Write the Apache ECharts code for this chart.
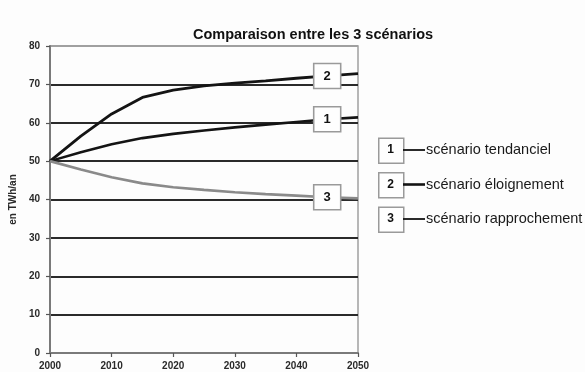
<!DOCTYPE html>
<html>
<head>
<meta charset="utf-8">
<script src="https://cdn.jsdelivr.net/npm/echarts@6/dist/echarts.min.js"></script>
<style>
  html, body { margin: 0; padding: 0; background: #fdfdfd; }
  #chart { width: 585px; height: 372px; }
</style>
</head>
<body>
<div id="chart"></div>
<script>
// Years and consumption (TWh/an) for each scenario
const years = [2000, 2005, 2010, 2015, 2020, 2025, 2030, 2035, 2040, 2045, 2050];
const tendanciel    = [50, 52.3, 54.4, 56.0, 57.1, 58.0, 58.8, 59.5, 60.2, 60.9, 61.4];
const eloignement   = [50, 56.5, 62.3, 66.6, 68.5, 69.6, 70.3, 70.9, 71.6, 72.2, 72.8];
const rapprochement = [50, 47.8, 45.8, 44.2, 43.2, 42.5, 41.9, 41.4, 41.0, 40.6, 40.3];
const seriesNames = ['scénario tendanciel', 'scénario éloignement', 'scénario rapprochement'];
const seriesTags = ['1', '2', '3'];
const yTicks = [0, 10, 20, 30, 40, 50, 60, 70, 80];
const xTicks = [2000, 2010, 2020, 2030, 2040, 2050];
const tagYear = 2045;

const FONT = '"Liberation Sans", Arial, sans-serif';
const allValues = [tendanciel, eloignement, rapprochement];
const lineColors = ['#141414', '#141414', '#8a8a8a'];
const lineWidths = [2.6, 2.8, 2.6];

function pairs(vals) { return years.map((y, i) => [y, vals[i]]); }

const series = allValues.map((vals, k) => ({
  name: seriesNames[k],
  type: 'line',
  data: pairs(vals),
  showSymbol: false,
  symbol: 'none',
  lineStyle: { color: lineColors[k], width: lineWidths[k] },
  z: 3,
  markPoint: {
    symbol: 'rect',
    symbolSize: [27, 25],
    itemStyle: { color: '#fefefe', borderColor: '#9a9a9a', borderWidth: 1.5 },
    label: {
      show: true, position: 'inside', formatter: seriesTags[k],
      color: '#111', fontFamily: FONT, fontWeight: 'bold', fontSize: 13
    },
    data: [{ coord: [tagYear, vals[years.indexOf(tagYear)]] }],
    animation: false
  }
}));

// Legend drawn as numbered boxes with a short line and the scenario name
const legendGraphics = [];
seriesNames.forEach((name, k) => {
  const cy = 150 + k * 34.5;
  legendGraphics.push({
    type: 'rect', left: 378, top: cy - 12.5,
    shape: { width: 25, height: 25 },
    style: { fill: '#fefefe', stroke: '#9a9a9a', lineWidth: 1.5 }
  });
  legendGraphics.push({
    type: 'text', x: 390.5, y: cy,
    style: { text: seriesTags[k], font: 'bold 12px ' + FONT, fill: '#111',
             textAlign: 'center', textVerticalAlign: 'middle' }
  });
  legendGraphics.push({
    type: 'line', shape: { x1: 403, y1: cy, x2: 425, y2: cy },
    style: { stroke: '#141414', lineWidth: k === 1 ? 2.6 : 1.8 }
  });
  legendGraphics.push({
    type: 'text', x: 426, y: cy,
    style: { text: name, font: '14.5px ' + FONT, fill: '#1a1a1a',
             textAlign: 'left', textVerticalAlign: 'middle' }
  });
});

const gridColors = yTicks.map((t, i) => i === yTicks.length - 1 ? '#a0a0a0' : '#2a2a2a');

const chart = echarts.init(document.getElementById('chart'), null, { renderer: 'canvas' });
chart.setOption({
  animation: false,
  backgroundColor: '#fdfdfd',
  title: {
    text: 'Comparaison entre les 3 scénarios',
    left: 308, top: 22, textAlign: 'center',
    textStyle: { fontFamily: FONT, fontWeight: 'bold', fontSize: 14.5, color: '#111' }
  },
  grid: {
    left: 49, right: 227, top: 46, bottom: 19,
    show: true, borderColor: '#a0a0a0', borderWidth: 1.5, backgroundColor: 'transparent'
  },
  xAxis: {
    type: 'value', min: 2000, max: 2050, interval: 10,
    axisLine: { show: true, onZero: false, lineStyle: { color: '#7a7a7a', width: 2 } },
    axisTick: { show: true, length: 4, inside: false, lineStyle: { color: '#555', width: 1.2 } },
    axisLabel: {
      margin: 8, color: '#2a2a2a', fontFamily: FONT, fontSize: 10, fontWeight: 'bold',
      formatter: v => (xTicks.includes(v) ? String(v) : '')
    },
    splitLine: { show: false }
  },
  yAxis: {
    type: 'value', min: 0, max: 80, interval: 10,
    name: 'en TWh/an', nameLocation: 'middle', nameGap: 27, nameRotate: 90,
    nameTextStyle: { fontFamily: FONT, fontSize: 10, fontWeight: 'bold', color: '#2a2a2a' },
    axisLine: { show: true, lineStyle: { color: '#7a7a7a', width: 2 } },
    axisTick: { show: true, length: 4, lineStyle: { color: '#555', width: 1.2 } },
    axisLabel: {
      margin: 10, color: '#2a2a2a', fontFamily: FONT, fontSize: 10, fontWeight: 'bold',
      formatter: v => (yTicks.includes(v) ? String(v) : '')
    },
    splitLine: { show: true, lineStyle: { color: gridColors, width: 1.8 } }
  },
  series: series,
  graphic: legendGraphics
});
</script>
</body>
</html>
